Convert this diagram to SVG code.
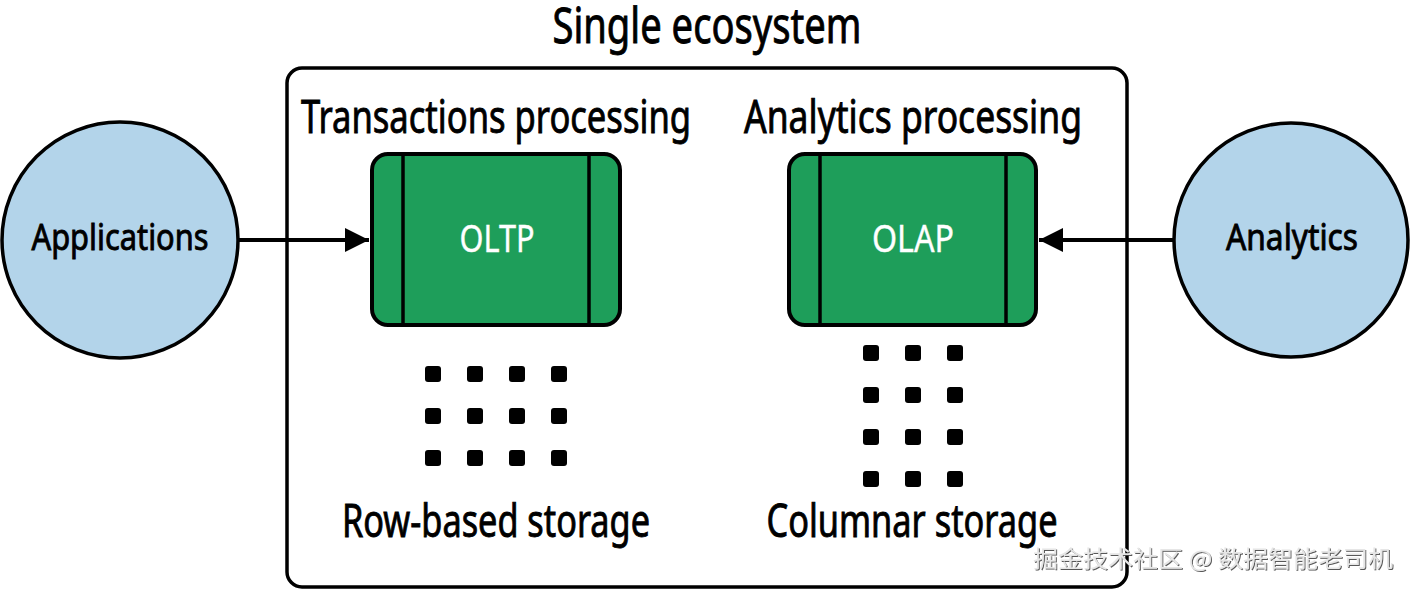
<svg xmlns="http://www.w3.org/2000/svg" width="1412" height="592" viewBox="0 0 1412 592">
<defs>
<style>
.t{font-family:"Noto Sans","Liberation Sans",sans-serif;fill:#000;stroke:#000;stroke-width:0.9;}
.w{font-family:"Noto Sans","Liberation Sans",sans-serif;fill:#fff;stroke:#fff;stroke-width:0.4;}
.circle{fill:#b3d4ea;stroke:#000;stroke-width:3.5;}
.proc{fill:#1e9e5a;stroke:#000;stroke-width:4;}
.bar{stroke:#000;stroke-width:3.5;}
.dot{fill:#000;}
.conn{stroke:#000;stroke-width:4;fill:none;}
.wm{font-family:"Noto Sans CJK SC","Noto Sans",sans-serif;font-size:23px;fill:#e6e6e6;}
</style>
<filter id="sh" x="-5%" y="-30%" width="110%" height="160%">
<feDropShadow dx="1" dy="1" stdDeviation="0.6" flood-color="#444" flood-opacity="0.9"/>
</filter>
<marker id="ah" viewBox="0 0 10 10" refX="10" refY="5" markerWidth="6" markerHeight="7.5" markerUnits="strokeWidth" orient="auto">
<path d="M0,0 L10,5 L0,10 z" fill="#000"/>
</marker>
<symbol id="d" viewBox="0 0 16 16"><rect x="0" y="0" width="16" height="16" rx="3" class="dot"/></symbol>
</defs>
<rect width="1412" height="592" fill="#fff"/>

<g id="ecosystem">
<rect x="287" y="68" width="840" height="519" rx="15" fill="none" stroke="#000" stroke-width="3.5"/>
<text class="t" x="707" y="43" font-size="50" text-anchor="middle" textLength="309" lengthAdjust="spacingAndGlyphs">Single ecosystem</text>
</g>

<g id="connectors">
<line class="conn" x1="238" y1="240" x2="369" y2="240" marker-end="url(#ah)"/>
<line class="conn" x1="1174" y1="240" x2="1039" y2="240" marker-end="url(#ah)"/>
</g>

<g id="applications">
<circle class="circle" cx="120" cy="240" r="118"/>
<text class="t" x="120" y="250" font-size="37" text-anchor="middle" textLength="177" lengthAdjust="spacingAndGlyphs">Applications</text>
</g>

<g id="analytics">
<circle class="circle" cx="1291" cy="240" r="117"/>
<text class="t" x="1292" y="250" font-size="37" text-anchor="middle" textLength="132" lengthAdjust="spacingAndGlyphs">Analytics</text>
</g>

<g id="oltp">
<text class="t" x="496" y="133" font-size="45" text-anchor="middle" textLength="390" lengthAdjust="spacingAndGlyphs">Transactions processing</text>
<rect class="proc" x="372" y="154" width="248" height="171" rx="16"/>
<line class="bar" x1="403" y1="154" x2="403" y2="325"/>
<line class="bar" x1="589" y1="154" x2="589" y2="325"/>
<text class="w" x="497" y="252" font-size="39" text-anchor="middle" textLength="75" lengthAdjust="spacingAndGlyphs">OLTP</text>
</g>

<g id="olap">
<text class="t" x="913" y="133" font-size="45" text-anchor="middle" textLength="338" lengthAdjust="spacingAndGlyphs">Analytics processing</text>
<rect class="proc" x="789" y="154" width="247" height="171" rx="16"/>
<line class="bar" x1="820" y1="154" x2="820" y2="325"/>
<line class="bar" x1="1006" y1="154" x2="1006" y2="325"/>
<text class="w" x="913" y="252" font-size="39" text-anchor="middle" textLength="82" lengthAdjust="spacingAndGlyphs">OLAP</text>
</g>

<g id="row-storage">
<use href="#d" x="425" y="366" width="16" height="16"/>
<use href="#d" x="467" y="366" width="16" height="16"/>
<use href="#d" x="509" y="366" width="16" height="16"/>
<use href="#d" x="551" y="366" width="16" height="16"/>
<use href="#d" x="425" y="408" width="16" height="16"/>
<use href="#d" x="467" y="408" width="16" height="16"/>
<use href="#d" x="509" y="408" width="16" height="16"/>
<use href="#d" x="551" y="408" width="16" height="16"/>
<use href="#d" x="425" y="450" width="16" height="16"/>
<use href="#d" x="467" y="450" width="16" height="16"/>
<use href="#d" x="509" y="450" width="16" height="16"/>
<use href="#d" x="551" y="450" width="16" height="16"/>
<text class="t" x="496" y="537" font-size="45" text-anchor="middle" textLength="308" lengthAdjust="spacingAndGlyphs">Row-based storage</text>
</g>

<g id="columnar-storage">
<use href="#d" x="863" y="345" width="16" height="16"/>
<use href="#d" x="905" y="345" width="16" height="16"/>
<use href="#d" x="947" y="345" width="16" height="16"/>
<use href="#d" x="863" y="387" width="16" height="16"/>
<use href="#d" x="905" y="387" width="16" height="16"/>
<use href="#d" x="947" y="387" width="16" height="16"/>
<use href="#d" x="863" y="429" width="16" height="16"/>
<use href="#d" x="905" y="429" width="16" height="16"/>
<use href="#d" x="947" y="429" width="16" height="16"/>
<use href="#d" x="863" y="471" width="16" height="16"/>
<use href="#d" x="905" y="471" width="16" height="16"/>
<use href="#d" x="947" y="471" width="16" height="16"/>
<text class="t" x="912" y="537" font-size="45" text-anchor="middle" textLength="291" lengthAdjust="spacingAndGlyphs">Columnar storage</text>
</g>

<g id="watermark">
<text class="wm" x="1033" y="567" filter="url(#sh)" textLength="360" lengthAdjust="spacingAndGlyphs">掘金技术社区 @ 数据智能老司机</text>
</g>
</svg>
